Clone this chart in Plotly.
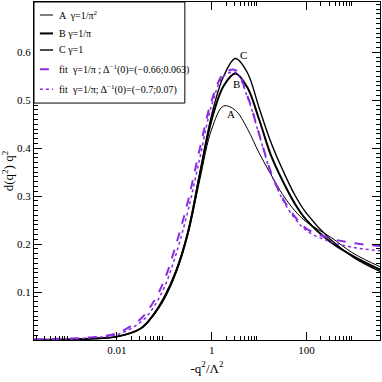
import plotly.graph_objects as go

# log10(-q^2/Lambda^2) grid
lx = [-3.75, -3, -2.5, -2, -1.5, -1.25, -1, -0.75, -0.5, -0.25, 0, 0.25, 0.5,
      0.75, 1, 1.25, 1.5, 1.75, 2, 2.5, 3, 3.55]
x = [10 ** v for v in lx]

curve_a = [0.0005, 0.001, 0.003, 0.007, 0.023, 0.048, 0.085, 0.140, 0.220, 0.335, 0.440,
           0.488, 0.479, 0.441, 0.390, 0.345, 0.303, 0.270, 0.246, 0.215, 0.180, 0.153]
curve_b = [0.0005, 0.001, 0.003, 0.007, 0.024, 0.050, 0.089, 0.144, 0.225, 0.345, 0.460,
           0.530, 0.556, 0.527, 0.460, 0.385, 0.331, 0.285, 0.250, 0.205, 0.174, 0.147]
curve_c = [0.0005, 0.001, 0.003, 0.007, 0.024, 0.050, 0.089, 0.145, 0.227, 0.350, 0.470,
           0.550, 0.587, 0.558, 0.484, 0.412, 0.354, 0.303, 0.264, 0.210, 0.172, 0.143]
fit_dash = [0.001, 0.003, 0.006, 0.014, 0.044, 0.076, 0.125, 0.200, 0.290, 0.400, 0.500,
            0.555, 0.563, 0.510, 0.430, 0.350, 0.295, 0.258, 0.232, 0.212, 0.202, 0.196]
fit_dot = [0.001, 0.002, 0.005, 0.011, 0.037, 0.065, 0.110, 0.180, 0.270, 0.380, 0.490,
           0.550, 0.558, 0.508, 0.428, 0.348, 0.292, 0.254, 0.228, 0.205, 0.193, 0.186]

names = ["A  γ=1/π<sup>2</sup>", "B γ=1/π", "C γ=1",
         "fit  γ=1/π ; Δ<sup>−1</sup>(0)=(−0.66;0.063)",
         "fit  γ=1/π; Δ<sup>−1</sup>(0)=(−0.7;0.07)"]

label_text = ["A", "B", "C"]
label_lx = [0.415, 0.52, 0.68]
label_y = [0.472, 0.535, 0.594]

x_ticks = [0.01, 1, 100]
x_ticktext = ["0.01", "1", "100"]
y_ticks = [0.1, 0.2, 0.3, 0.4, 0.5, 0.6]
y_ticktext = ["0.1", "0.2", "0.3", "0.4", "0.5", "0.6"]

# minor ticks: 2..9 times each 1e-4, 1e-2, 1, 100
x_minor = [m * d for d in [1e-4, 1e-2, 1, 100] for m in range(2, 10)]

violet = "#8a2be2"
serif = "Liberation Serif"

styles = [dict(color="black", width=1), dict(color="black", width=2),
          dict(color="black", width=1.4), dict(color=violet, width=2, dash="dash"),
          dict(color=violet, width=1.5, dash="dot")]

fig = go.Figure()
for ys, nm, st in zip([curve_a, curve_b, curve_c, fit_dash, fit_dot], names, styles):
    fig.add_trace(go.Scatter(x=x, y=ys, mode="lines", name=nm,
                             line=dict(shape="spline", **st), showlegend=False))

for txt, lxv, yv in zip(label_text, label_lx, label_y):
    fig.add_annotation(x=lxv, y=yv, text=txt, showarrow=False,
                       font=dict(family=serif, size=11, color="black"))

# legend box drawn by hand (xmgrace style, short sample lines)
fig.add_shape(type="rect", xref="paper", yref="paper", x0=0.0, x1=0.436, y0=0.701, y1=1.0,
              line=dict(color="black", width=1), fillcolor="white", layer="above")
leg_y = [0.9615, 0.907, 0.858, 0.801, 0.742]
for nm, st, yy in zip(names, styles, leg_y):
    fig.add_shape(type="line", xref="paper", yref="paper", x0=0.017, x1=0.055, y0=yy, y1=yy,
                  line=st, layer="above")
    fig.add_annotation(xref="paper", yref="paper", x=0.066, y=yy, text=nm, showarrow=False,
                       xanchor="left", yanchor="middle",
                       font=dict(family=serif, size=10, color="black"))

fig.update_xaxes(type="log", range=[-3.75, 3.55], tickvals=x_ticks, ticktext=x_ticktext,
                 ticks="inside", ticklen=8, tickcolor="black", showgrid=False, zeroline=False,
                 showline=True, linecolor="black", linewidth=1, mirror="allticks", automargin=False,
                 minor=dict(tickmode="array", tickvals=x_minor, ticks="inside", ticklen=4,
                            tickcolor="black", showgrid=False),
                 title=dict(text="-q<sup>2</sup>/Λ<sup>2</sup>", font=dict(family=serif, size=13), standoff=8),
                 tickfont=dict(family=serif, size=11, color="black"))
fig.update_yaxes(range=[0, 0.705], tickvals=y_ticks, ticktext=y_ticktext,
                 ticks="inside", ticklen=8, tickcolor="black", showgrid=False, zeroline=False,
                 showline=True, linecolor="black", linewidth=1, mirror="allticks", automargin=False,
                 minor=dict(dtick=0.01, ticks="inside", ticklen=4, tickcolor="black", showgrid=False),
                 title=dict(text="d(q<sup>2</sup>) q<sup>2</sup>", font=dict(family=serif, size=13), standoff=2),
                 tickfont=dict(family=serif, size=11, color="black"))

fig.update_layout(width=382, height=382, margin=dict(l=34, r=2, t=2, b=42),
                  plot_bgcolor="white", paper_bgcolor="white",
                  font=dict(family=serif, color="black"), showlegend=False)

fig.write_html("out.html", config={"displayModeBar": False},
               post_script="document.body.style.margin='0px';")
